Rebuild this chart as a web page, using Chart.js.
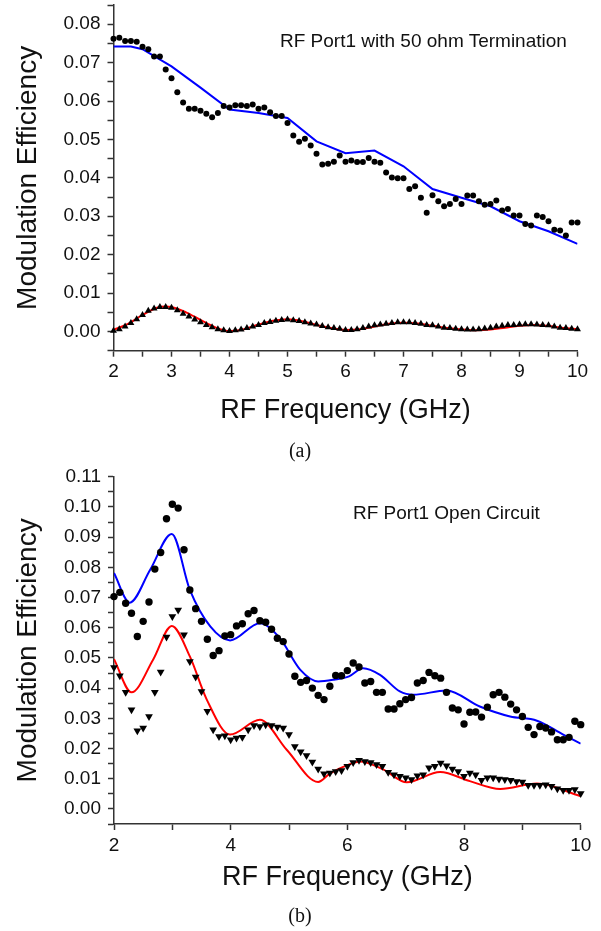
<!DOCTYPE html>
<html>
<head>
<meta charset="utf-8">
<script src="https://cdn.jsdelivr.net/npm/chart.js@4.4.1/dist/chart.umd.min.js"></script>
<style>
  body { margin: 0; background: #fff; width: 601px; height: 931px; position: relative; overflow: hidden;
         font-family: "Liberation Sans", Arial, sans-serif; }
  canvas { position: absolute; left: 0; }
  #chartA { top: 0; }
  #chartB { top: 440px; }
  .note { position: absolute; font-size: 19px; line-height: 19px; color: #111; white-space: nowrap; }
  .cap { position: absolute; left: 0; width: 600px; text-align: center; font-family: "Liberation Serif", "Times New Roman", serif;
         font-size: 20px; line-height: 20px; color: #111; }
</style>
</head>
<body>
<canvas id="chartA" width="601" height="440"></canvas>
<canvas id="chartB" width="601" height="470"></canvas>
<div class="note" style="left:280px; top:31px;">RF Port1 with 50 ohm Termination</div>
<div class="note" style="left:353px; top:503px;">RF Port1 Open Circuit</div>
<div class="cap" style="top:440px;">(a)</div>
<div class="cap" style="top:905px;">(b)</div>
<script>
// measured frequencies (GHz), shared by both panels
const freq = [2.0, 2.1, 2.2, 2.3, 2.4, 2.5, 2.6, 2.7, 2.8, 2.9,
  3.0, 3.1, 3.2, 3.3, 3.4, 3.5, 3.6, 3.7, 3.8, 3.9,
  4.0, 4.1, 4.2, 4.3, 4.4, 4.5, 4.6, 4.7, 4.8, 4.9,
  5.0, 5.1, 5.2, 5.3, 5.4, 5.5, 5.6, 5.7, 5.8, 5.9,
  6.0, 6.1, 6.2, 6.3, 6.4, 6.5, 6.6, 6.7, 6.8, 6.9,
  7.0, 7.1, 7.2, 7.3, 7.4, 7.5, 7.6, 7.7, 7.8, 7.9,
  8.0, 8.1, 8.2, 8.3, 8.4, 8.5, 8.6, 8.7, 8.8, 8.9,
  9.0, 9.1, 9.2, 9.3, 9.4, 9.5, 9.6, 9.7, 9.8, 9.9, 10.0];

// (a) 50 ohm termination
const dotsA = [0.0762, 0.0765, 0.0756, 0.0756, 0.0754, 0.0741, 0.0735, 0.0716, 0.0716, 0.0682,
  0.0659, 0.0623, 0.0596, 0.0580, 0.0580, 0.0575, 0.0567, 0.0558, 0.0569, 0.0587,
  0.0583, 0.0589, 0.0589, 0.0587, 0.0591, 0.0580, 0.0583, 0.0571, 0.0561, 0.0561,
  0.0543, 0.0510, 0.0494, 0.0502, 0.0484, 0.0463, 0.0435, 0.0437, 0.0442, 0.0458,
  0.0442, 0.0445, 0.0441, 0.0441, 0.0452, 0.0442, 0.0439, 0.0414, 0.0401, 0.0399,
  0.0399, 0.0371, 0.0378, 0.0348, 0.0309, 0.0355, 0.0339, 0.0326, 0.0332, 0.0345,
  0.0332, 0.0354, 0.0354, 0.0339, 0.0330, 0.0332, 0.0341, 0.0315, 0.0319, 0.0302,
  0.0302, 0.0280, 0.0276, 0.0302, 0.0298, 0.0287, 0.0265, 0.0263, 0.0250, 0.0284, 0.0284];
const triA = [0.0002, 0.0006, 0.0013, 0.0022, 0.0032, 0.0043, 0.0054, 0.0060, 0.0064, 0.0064,
  0.0062, 0.0055, 0.0046, 0.0039, 0.0031, 0.0024, 0.0017, 0.0011, 0.0006, 0.0003,
  0.0001, 0.0003, 0.0005, 0.0009, 0.0013, 0.0017, 0.0022, 0.0025, 0.0028, 0.0030,
  0.0031, 0.0029, 0.0027, 0.0024, 0.0021, 0.0018, 0.0014, 0.0011, 0.0009, 0.0007,
  0.0004, 0.0004, 0.0006, 0.0009, 0.0013, 0.0016, 0.0018, 0.0020, 0.0022, 0.0024,
  0.0024, 0.0024, 0.0022, 0.0020, 0.0017, 0.0016, 0.0013, 0.0010, 0.0009, 0.0007,
  0.0006, 0.0005, 0.0005, 0.0006, 0.0008, 0.0010, 0.0013, 0.0015, 0.0017, 0.0017,
  0.0018, 0.0019, 0.0019, 0.0018, 0.0017, 0.0016, 0.0013, 0.0010, 0.0009, 0.0007, 0.0006];
const blueFreqA = [2.0, 2.3, 2.5, 3.0, 3.5, 4.0, 4.5, 5.0, 5.5, 6.0, 6.5, 7.0, 7.5, 8.0, 8.5, 9.0, 9.5, 10.0];
const blueA = [0.0742, 0.0742, 0.0735, 0.0690, 0.0635, 0.0578, 0.0569, 0.0556, 0.0495, 0.0464,
  0.0471, 0.0430, 0.0371, 0.0348, 0.0326, 0.0287, 0.0261, 0.0228];
const redFreqA = [2.0, 2.25, 2.5, 2.75, 2.9, 3.0, 3.25, 3.5, 3.75, 4.0, 4.25, 4.5, 4.75, 5.0, 5.25, 5.5,
  5.75, 6.0, 6.25, 6.5, 6.75, 7.0, 7.25, 7.5, 7.75, 8.0, 8.25, 8.5, 8.75, 9.0, 9.25, 9.5, 9.75, 10.0];
const redA = [0.0004, 0.0020, 0.0043, 0.0062, 0.0065, 0.0064, 0.0050, 0.0030, 0.0011, 0.0001, 0.0006,
  0.0018, 0.0028, 0.0032, 0.0027, 0.0017, 0.0009, 0.0004, 0.0006, 0.0013, 0.0020, 0.0023, 0.0021,
  0.0015, 0.0009, 0.0005, 0.0003, 0.0005, 0.0010, 0.0015, 0.0017, 0.0014, 0.0009, 0.0006];

// (b) open circuit
const dotsB = [0.0703, 0.0717, 0.0681, 0.0648, 0.0571, 0.0621, 0.0685, 0.0794, 0.0849, 0.0961,
  0.1009, 0.0996, 0.0858, 0.0725, 0.0663, 0.0621, 0.0562, 0.0508, 0.0524, 0.0573,
  0.0577, 0.0606, 0.0613, 0.0646, 0.0657, 0.0623, 0.0618, 0.0595, 0.0565, 0.0554,
  0.0513, 0.0439, 0.0419, 0.0425, 0.0400, 0.0376, 0.0362, 0.0406, 0.0442, 0.0441,
  0.0458, 0.0483, 0.0470, 0.0417, 0.0422, 0.0386, 0.0386, 0.0331, 0.0331, 0.0348,
  0.0362, 0.0369, 0.0417, 0.0425, 0.0452, 0.0441, 0.0433, 0.0386, 0.0334, 0.0328,
  0.0281, 0.0320, 0.0321, 0.0304, 0.0337, 0.0378, 0.0386, 0.0370, 0.0347, 0.0328,
  0.0306, 0.0270, 0.0246, 0.0273, 0.0268, 0.0255, 0.0229, 0.0229, 0.0237, 0.0290, 0.0279];
const triB = [0.0468, 0.0441, 0.0386, 0.0328, 0.0259, 0.0268, 0.0306, 0.0386, 0.0453, 0.0569,
  0.0637, 0.0659, 0.0577, 0.0488, 0.0437, 0.0389, 0.0323, 0.0262, 0.0240, 0.0242,
  0.0229, 0.0235, 0.0237, 0.0262, 0.0276, 0.0273, 0.0279, 0.0276, 0.0271, 0.0268,
  0.0246, 0.0207, 0.0189, 0.0177, 0.0155, 0.0132, 0.0116, 0.0119, 0.0124, 0.0127,
  0.0141, 0.0154, 0.0161, 0.0157, 0.0154, 0.0147, 0.0141, 0.0121, 0.0113, 0.0108,
  0.0103, 0.0097, 0.0110, 0.0113, 0.0136, 0.0141, 0.0152, 0.0143, 0.0132, 0.0124,
  0.0108, 0.0119, 0.0113, 0.0095, 0.0103, 0.0103, 0.0099, 0.0097, 0.0095, 0.0091,
  0.0089, 0.0078, 0.0078, 0.0078, 0.0080, 0.0075, 0.0067, 0.0062, 0.0062, 0.0064, 0.0051];
const blueFreqB = [2.0, 2.27, 2.62, 2.99, 3.3, 3.65, 3.99, 4.5, 4.84, 5.19, 5.5, 5.77, 6.03, 6.27,
  6.56, 6.9, 7.13, 7.7, 8.27, 8.79, 9.25, 9.7, 10.0];
const blueB = [0.0781, 0.0683, 0.0792, 0.0910, 0.0725, 0.0604, 0.0558, 0.0615, 0.0566, 0.0461,
  0.0422, 0.0428, 0.0439, 0.0466, 0.0444, 0.0389, 0.0378, 0.0392, 0.0339, 0.0306, 0.0292, 0.0246, 0.0216];
const redFreqB = [2.0, 2.3, 2.67, 2.99, 3.3, 3.59, 3.99, 4.5, 4.96, 5.5, 5.7, 6.0, 6.22, 6.62,
  7.02, 7.59, 8.1, 8.62, 9.25, 10.0];
const redB = [0.0496, 0.0386, 0.0494, 0.0606, 0.0505, 0.0362, 0.0246, 0.0295, 0.0196, 0.0089,
  0.0117, 0.0145, 0.0157, 0.0130, 0.0088, 0.0122, 0.0092, 0.0066, 0.0084, 0.0042];

// axis labels
const xLabelsA = [2, 3, 4, 5, 6, 7, 8, 9, 10];
const xLabelsB = [2, 4, 6, 8, 10];
const yLabelsA = [0.00, 0.01, 0.02, 0.03, 0.04, 0.05, 0.06, 0.07, 0.08];
const yLabelsB = [0.00, 0.01, 0.02, 0.03, 0.04, 0.05, 0.06, 0.07, 0.08, 0.09, 0.10, 0.11];

Chart.defaults.font.family = '"Liberation Sans", Arial, sans-serif';
Chart.defaults.color = '#111';

const pts = (xs, ys) => xs.map((x, i) => ({ x: x, y: ys[i] }));

// major labels plus a minor tick halfway between them, across the whole axis
function tickList(labels, lo, hi) {
  const half = (labels[1] - labels[0]) / 2;
  const out = [];
  for (let k = Math.round((lo - labels[0]) / half); labels[0] + k * half <= hi + 1e-9; k++) {
    out.push(+(labels[0] + k * half).toFixed(6));
  }
  return out;
}
const isLabel = (v, labels) => labels.some(l => Math.abs(l - v) < 1e-6);

function makeChart(id, o) {
  const tickGrid = { drawOnChartArea: false, tickLength: 6, tickWidth: 1.5, tickColor: '#333' };
  return new Chart(document.getElementById(id), {
    type: 'scatter',
    data: {
      datasets: [
        { data: pts(freq, o.dots), pointStyle: 'circle', pointRadius: o.dotR, backgroundColor: '#000',
          borderWidth: 0, clip: false },
        { data: pts(freq, o.tri), pointStyle: 'triangle', pointRadius: o.triR, rotation: o.triRot,
          backgroundColor: '#000', borderColor: '#000', borderWidth: 0, clip: false },
        { data: pts(o.blueX, o.blue), showLine: true, pointRadius: 0, borderColor: '#0000ff', borderWidth: 2,
          cubicInterpolationMode: o.smoothBlue ? 'monotone' : 'default' },
        { data: pts(o.redX, o.red), showLine: true, pointRadius: 0, borderColor: '#ff0000', borderWidth: 2,
          cubicInterpolationMode: 'monotone' }
      ]
    },
    options: {
      responsive: false,
      animation: false,
      layout: { padding: o.pad },
      plugins: { legend: { display: false }, tooltip: { enabled: false } },
      scales: {
        x: {
          type: 'linear', min: 2, max: 10,
          afterBuildTicks: s => { s.ticks = tickList(o.xLabels, 2, 10).map(v => ({ value: v })); },
          afterFit: s => { s.height = o.xHeight; s.paddingLeft = 0; s.paddingRight = 0; },
          ticks: { autoSkip: false, maxRotation: 0, padding: 4, font: { size: 19 },
                   callback: v => isLabel(v, o.xLabels) ? String(Math.round(v)) : '' },
          grid: tickGrid,
          border: { color: '#333', width: 1.5 },
          title: { display: true, text: 'RF Frequency (GHz)', font: { size: 27 },
                   padding: { top: 0, bottom: o.xTitlePad } }
        },
        y: {
          type: 'linear', min: -0.005, max: o.yMax,
          afterBuildTicks: s => { s.ticks = tickList(o.yLabels, -0.005, o.yMax).map(v => ({ value: v })); },
          afterFit: s => { s.width = o.yWidth; s.paddingTop = 0; s.paddingBottom = 0; },
          ticks: { autoSkip: false, padding: 7, font: { size: 19 },
                   callback: v => isLabel(v, o.yLabels) ? v.toFixed(2) : '' },
          grid: tickGrid,
          border: { color: '#333', width: 1.5 },
          title: { display: true, text: 'Modulation Efficiency', font: { size: 28 },
                   padding: { top: 11, bottom: 0 } }
        }
      }
    }
  });
}

makeChart('chartA', {
  dots: dotsA, tri: triA, dotR: 3.0, triR: 4.0, triRot: 0,
  blueX: blueFreqA, blue: blueA, smoothBlue: false, redX: redFreqA, red: redA,
  xLabels: xLabelsA, yLabels: yLabelsA, yMax: 0.085,
  pad: { top: 5, right: 23.5, bottom: 0, left: 0 }, yWidth: 113.5, xHeight: 89.3, xTitlePad: 12.8
});

makeChart('chartB', {
  dots: dotsB, tri: triB, dotR: 3.7, triR: 4.5, triRot: 180,
  blueX: blueFreqB, blue: blueB, smoothBlue: true, redX: redFreqB, red: redB,
  xLabels: xLabelsB, yLabels: yLabelsB, yMax: 0.11,
  pad: { top: 36.7, right: 20.3, bottom: 0, left: 0 }, yWidth: 114, xHeight: 86, xTitlePad: 15.8
});
</script>
</body>
</html>
